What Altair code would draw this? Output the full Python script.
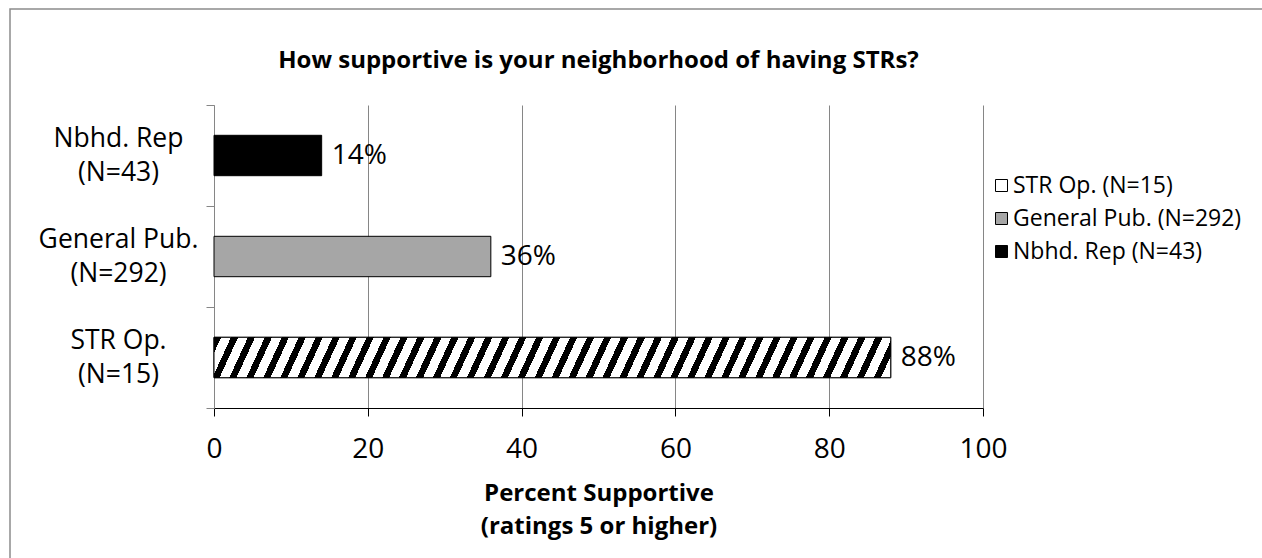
import altair as alt
import pandas as pd

# Survey groups, their sample sizes and percent supportive (ratings 5 or higher)
groups = ["STR Op.", "General Pub.", "Nbhd. Rep"]
sample_sizes = [15, 292, 43]
pct_supportive = [88, 36, 14]
x_ticks = [0, 20, 40, 60, 80, 100]

rows = [f"{g} (N={n})" for g, n in zip(groups, sample_sizes)]
df = pd.DataFrame({"row": rows, "pct": pct_supportive})

FONT = "Open Sans"
GRID = "#868686"
W, H = 769, 303
LEFT, TOP, RIGHT, BOTTOM = 214, 105, 279, 150


def hatch(periods=41, black=0.42, ratio=36.4):
    """Diagonal '/' hatching built from hard-stop linear gradient bands."""
    b = (ratio + 1) / (ratio * ratio + 1)
    a = ratio * b
    stops = []
    for k in range(periods):
        s, m, e = k / periods, (k + black) / periods, (k + 1) / periods
        stops += [
            alt.GradientStop(offset=s, color="black"),
            alt.GradientStop(offset=m, color="black"),
            alt.GradientStop(offset=m, color="white"),
            alt.GradientStop(offset=e, color="white"),
        ]
    return alt.LinearGradient(gradient="linear", stops=stops, x1=0, y1=0, x2=a, y2=b)


# two-line category labels: "Name" over "(N=..)"
split_label = (
    "isString(datum.label) && indexof(datum.label, ' (') > 0 ? "
    "[split(datum.label, ' (')[0], '(' + split(datum.label, ' (')[1]] : ''"
)

y_enc = alt.Y(
    "row:N",
    sort=rows[::-1],
    scale=alt.Scale(paddingInner=0, paddingOuter=0),
    axis=alt.Axis(
        title=None,
        grid=False,
        domainColor=GRID,
        tickColor=GRID,
        tickSize=8,
        bandPosition=1,
        tickExtra=True,
        labelExpr=split_label,
        labelAlign="center",
        labelBaseline="middle",
        labelPadding=88,
        labelOffset=-17,
        labelFont=FONT,
        labelFontSize=26.5,
        labelLineHeight=34,
        labelColor="black",
    ),
)

x_enc = alt.X(
    "pct:Q",
    scale=alt.Scale(domain=[0, 100], nice=False),
    axis=alt.Axis(
        values=x_ticks,
        grid=True,
        gridColor=GRID,
        gridWidth=1,
        domainColor="black",
        tickColor="black",
        tickSize=8,
        labelFlush=False,
        labelFont=FONT,
        labelFontSize=28,
        labelColor="black",
        labelPadding=19,
        title=["Percent Supportive", "(ratings 5 or higher)"],
        titleFont=FONT,
        titleFontSize=24,
        titleFontWeight="bold",
        titleColor="black",
        titleLineHeight=33,
        titlePadding=18,
    ),
)

base = alt.Chart(df)

bars = base.mark_bar(height={"band": 0.4}, stroke="black", strokeWidth=1).encode(
    x=x_enc,
    y=y_enc,
    fill=alt.Fill(
        "row:N",
        scale=alt.Scale(domain=rows, range=["white", "#a6a6a6", "black"]),
        legend=alt.Legend(
            title=None,
            orient="none",
            legendX=776,
            legendY=69,
            padding=0,
            symbolType="square",
            symbolSize=144,
            symbolStrokeColor="black",
            symbolStrokeWidth=1,
            labelFont=FONT,
            labelFontSize=23,
            labelColor="black",
            labelOffset=0,
            labelLimit=400,
            rowPadding=9,
        ),
    ),
)

hatched = (
    base.transform_filter(alt.datum.row == rows[0])
    .mark_bar(height={"band": 0.4}, fill=hatch(), stroke="black", strokeWidth=1)
    .encode(x="pct:Q", y=alt.Y("row:N", sort=rows[::-1]))
)

labels = (
    base.transform_calculate(txt="format(datum.pct, '.0f') + '%'")
    .mark_text(align="left", baseline="middle", dx=10, font=FONT, fontSize=28, color="black")
    .encode(x="pct:Q", y=alt.Y("row:N", sort=rows[::-1]), text="txt:N")
)

frame = (
    alt.Chart(pd.DataFrame({"frame": [0]}))
    .mark_rect(fill="transparent", stroke="#8c8c8c", strokeWidth=1.5)
    .encode(
        x=alt.value(10 - LEFT),
        x2=alt.value(1262 - LEFT + 10),
        y=alt.value(9 - TOP),
        y2=alt.value(558 - TOP + 10),
    )
)

chart = (
    alt.layer(frame, bars, hatched, labels)
    .properties(
        width=W,
        height=H,
        padding={"left": LEFT, "top": TOP, "right": RIGHT, "bottom": BOTTOM},
        autosize=alt.AutoSizeParams(type="none"),
        background="white",
        title=alt.TitleParams(
            text="How supportive is your neighborhood of having STRs?",
            font=FONT,
            fontSize=24,
            fontWeight="bold",
            color="black",
            anchor="middle",
            frame="group",
            offset=-65,
        ),
    )
    .configure_view(stroke=None)
)

chart.save("out.html", embed_options={"renderer": "svg", "actions": False})
